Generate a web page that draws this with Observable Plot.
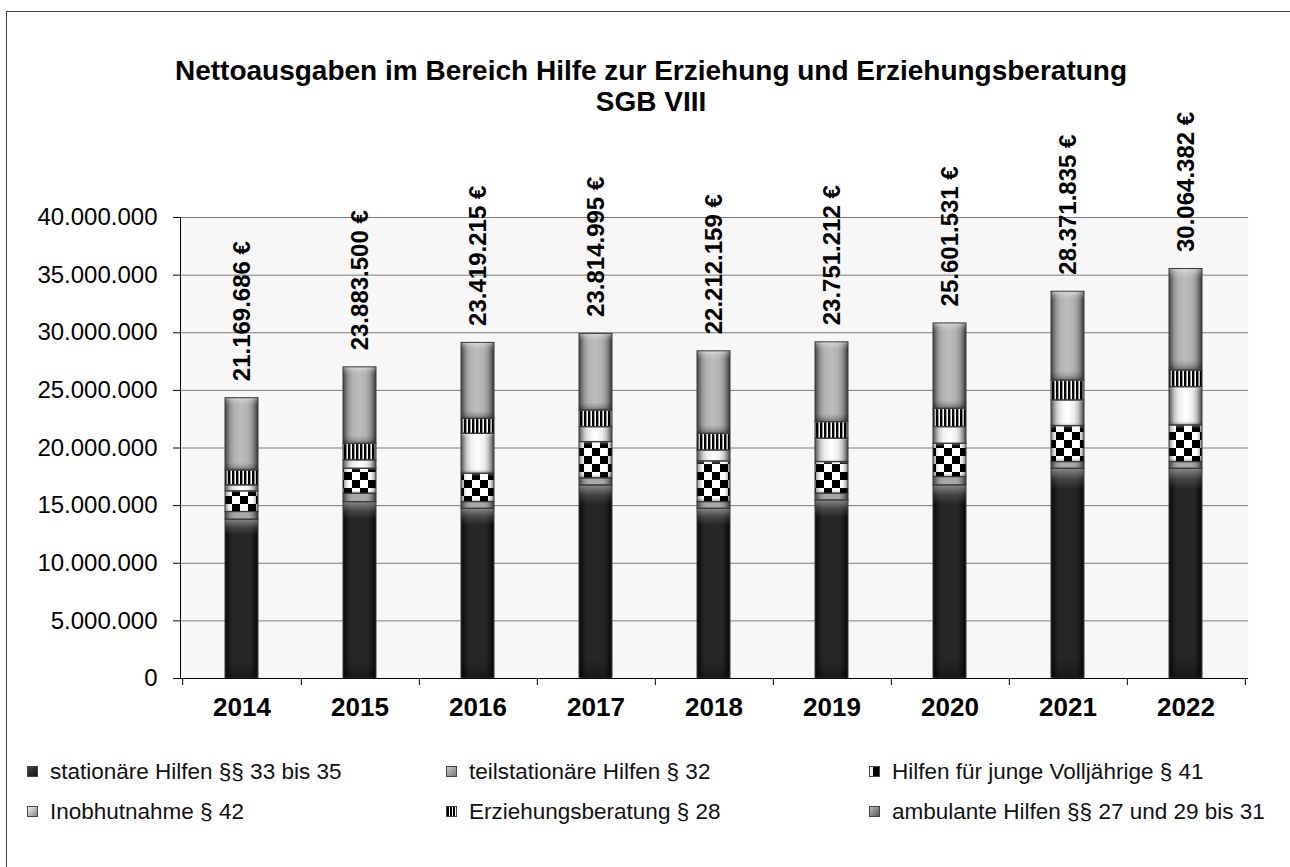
<!DOCTYPE html>
<html>
<head>
<meta charset="utf-8">
<script src="https://cdn.jsdelivr.net/npm/d3@7"></script>
<script src="https://cdn.jsdelivr.net/npm/@observablehq/plot@0.6"></script>
<style>
  body { margin: 0; background: #fff; font-family: "Liberation Sans", Arial, sans-serif; }
  #page { position: relative; width: 1290px; height: 867px; overflow: hidden; background: #fff; }
  #border { position: absolute; left: 6px; top: 11px; width: 1400px; height: 900px;
            border-left: 1.5px solid #444; border-top: 1.5px solid #444; }
  #chart { position: absolute; left: 0; top: 0; }
  #title { position: absolute; left: 0; width: 1302px; top: 55px; text-align: center;
           font-weight: bold; font-size: 28px; line-height: 31px; color: #000; }
  .item { position: absolute; font-size: 22.5px; line-height: 25px; color: #111; white-space: nowrap;
          display: flex; align-items: center; }
  .sw { width: 9px; height: 9px; margin-right: 12px; border: 1px solid #444; box-sizing: content-box; }
</style>
</head>
<body>
<div id="page">
  <div id="border"></div>
  <div id="chart"></div>
  <div id="title">Nettoausgaben im Bereich Hilfe zur Erziehung und Erziehungsberatung<br>SGB VIII</div>
  <div id="legend"></div>
</div>
<script>
// ---- data ----
const years = ["2014", "2015", "2016", "2017", "2018", "2019", "2020", "2021", "2022"];
const seriesNames = [
  "stationäre Hilfen §§ 33 bis 35",
  "teilstationäre Hilfen § 32",
  "Hilfen für junge Volljährige § 41",
  "Inobhutnahme § 42",
  "Erziehungsberatung § 28",
  "ambulante Hilfen §§ 27 und 29 bis 31"
];
const stationaer   = [13780000, 15300000, 14730000, 16750000, 14730000, 15450000, 16750000, 18200000, 18200000];
const teilstationaer = [660000, 730000, 570000, 610000, 570000, 580000, 720000, 570000, 570000];
const jungeVolljaehrige = [1790000, 2170000, 2460000, 3140000, 3530000, 2740000, 2890000, 3120000, 3180000];
const inobhutnahme = [520000, 720000, 3470000, 1300000, 950000, 2030000, 1440000, 2230000, 3320000];
const erziehungsberatung = [1300000, 1440000, 1300000, 1450000, 1450000, 1440000, 1600000, 1730000, 1450000];
const ambulant     = [6270000, 6640000, 6590000, 6650000, 7160000, 6930000, 7410000, 7710000, 8810000];
const totalLabels = ["21.169.686 €", "23.883.500 €", "23.419.215 €", "23.814.995 €", "22.212.159 €",
                     "23.751.212 €", "25.601.531 €", "28.371.835 €", "30.064.382 €"];
const yTicks = [0, 5000000, 10000000, 15000000, 20000000, 25000000, 30000000, 35000000, 40000000];

// legend layout order (3 columns x 2 rows as in reference)
const legendOrder = [
  "stationäre Hilfen §§ 33 bis 35", "teilstationäre Hilfen § 32", "Hilfen für junge Volljährige § 41",
  "Inobhutnahme § 42", "Erziehungsberatung § 28", "ambulante Hilfen §§ 27 und 29 bis 31"
];

// ---- build tables ----
const seriesValues = [stationaer, teilstationaer, jungeVolljaehrige, inobhutnahme, erziehungsberatung, ambulant];
const data = [];
seriesNames.forEach((s, i) => years.forEach((y, j) => data.push({year: y, series: s, value: seriesValues[i][j]})));
const totals = years.map((y, j) => ({year: y, total: d3.sum(seriesValues, v => v[j]), label: totalLabels[j]}));

const fmt = d3.formatLocale({decimal: ",", thousands: ".", grouping: [3], currency: ["", "€"]}).format(",d");
const fills = ["url(#f-stat)", "url(#f-teil)", "url(#f-junge)", "url(#f-inob)", "url(#f-erz)", "url(#f-amb)"];

const W = 1290, H = 740, mL = 180, mR = 42, mT = 217, mB = 62;
const step = (W - mL - mR) / years.length;
const stackOpts = {x: "year", y: "value", z: "series", order: seriesNames};

const chart = Plot.plot({
  width: W, height: H,
  marginTop: mT, marginLeft: mL, marginRight: mR, marginBottom: mB,
  style: {fontFamily: "Liberation Sans, Arial, sans-serif", background: "transparent", overflow: "visible", color: "#000"},
  x: {domain: years, paddingInner: 0.72, paddingOuter: 0.36, label: null},
  y: {domain: [0, 40000000], label: null},
  color: {domain: seriesNames, range: fills},
  marks: [
    Plot.frame({fill: "#f7f7f7", stroke: null}),
    Plot.gridY(yTicks, {stroke: "#7a7a7a", strokeOpacity: 1, strokeWidth: 1}),
    Plot.barY(data, {...stackOpts, fill: "series"}),
    Plot.barY(data, {...stackOpts, fill: "url(#bevelH)"}),
    Plot.barY(data, {...stackOpts, fill: "url(#bevelV)"}),
    Plot.barY(data, {...stackOpts, fill: "none", stroke: "#3a3a3a", strokeWidth: 1}),
    Plot.frame({anchor: "left", stroke: "#000"}),
    Plot.ruleY([0], {stroke: "#000"}),
    Plot.axisY(yTicks, {tickSize: 7, tickPadding: 16, tickFormat: fmt, fontSize: 24, label: null, stroke: "#000"}),
    Plot.axisX({tickSize: 0, tickPadding: 19, fontSize: 26, fontWeight: "bold", label: null}),
    Plot.axisX(years, {tickSize: 7, tickFormat: () => "", dx: step / 2, label: null, stroke: "#000"}),
    Plot.axisX(years.slice(0, 1), {tickSize: 7, tickFormat: () => "", dx: -step / 2, label: null, stroke: "#000"}),
    Plot.text(totals, {x: "year", y: "total", text: "label", rotate: -90, textAnchor: "start",
                       dy: -17, fontSize: 24, fontWeight: "bold", fill: "#000"})
  ]
});

// ---- defs: patterns and gradients ----
const svg = d3.select(chart);
const defs = svg.insert("defs", ":first-child");
function hGrad(id, stops) {
  const g = defs.append("linearGradient").attr("id", id).attr("x1", 0).attr("x2", 1).attr("y1", 0).attr("y2", 0);
  stops.forEach(([o, c, a]) => g.append("stop").attr("offset", o).attr("stop-color", c).attr("stop-opacity", a == null ? 1 : a));
}
function vGrad(id, stops) {
  const g = defs.append("linearGradient").attr("id", id).attr("x1", 0).attr("x2", 0).attr("y1", 0).attr("y2", 1);
  stops.forEach(([o, c, a]) => g.append("stop").attr("offset", o).attr("stop-color", c).attr("stop-opacity", a == null ? 1 : a));
}
hGrad("f-stat", [[0, "#111"], [0.25, "#262626"], [0.75, "#262626"], [1, "#0e0e0e"]]);
hGrad("f-teil", [[0, "#7a7a7a"], [0.3, "#a8a8a8"], [0.7, "#a8a8a8"], [1, "#6e6e6e"]]);
hGrad("f-inob", [[0, "#9a9a9a"], [0.3, "#eeeeee"], [0.5, "#ffffff"], [0.7, "#eeeeee"], [1, "#8e8e8e"]]);
hGrad("f-amb",  [[0, "#7c7c7c"], [0.3, "#b3b3b3"], [0.5, "#bdbdbd"], [0.7, "#b0b0b0"], [1, "#6f6f6f"]]);
const pj = defs.append("pattern").attr("id", "f-junge").attr("patternUnits", "userSpaceOnUse")
  .attr("width", 16).attr("height", 16);
pj.append("rect").attr("width", 16).attr("height", 16).attr("fill", "#fff");
pj.append("rect").attr("width", 8).attr("height", 8).attr("fill", "#000");
pj.append("rect").attr("x", 8).attr("y", 8).attr("width", 8).attr("height", 8).attr("fill", "#000");
const pe = defs.append("pattern").attr("id", "f-erz").attr("patternUnits", "userSpaceOnUse")
  .attr("width", 4).attr("height", 4);
pe.append("rect").attr("width", 4).attr("height", 4).attr("fill", "#fff");
pe.append("rect").attr("width", 2.4).attr("height", 4).attr("fill", "#000");
hGrad("bevelH", [[0, "#000", 0.45], [0.1, "#000", 0.15], [0.18, "#000", 0], [0.82, "#000", 0], [0.9, "#000", 0.15], [1, "#000", 0.5]]);
vGrad("bevelV", [[0, "#fff", 0.45], [0.05, "#fff", 0.15], [0.1, "#fff", 0], [0.9, "#000", 0], [0.95, "#000", 0.15], [1, "#000", 0.4]]);

document.getElementById("chart").appendChild(chart);

// ---- legend ----
const swatchCss = {
  "stationäre Hilfen §§ 33 bis 35": "linear-gradient(135deg,#444,#111)",
  "teilstationäre Hilfen § 32": "linear-gradient(135deg,#ccc,#777)",
  "Hilfen für junge Volljährige § 41": "linear-gradient(90deg,#eee 0 30%,#000 30% 100%)",
  "Inobhutnahme § 42": "linear-gradient(135deg,#eee,#888)",
  "Erziehungsberatung § 28": "repeating-linear-gradient(90deg,#000 0 2px,#fff 2px 3px)",
  "ambulante Hilfen §§ 27 und 29 bis 31": "linear-gradient(135deg,#bbb,#555)"
};
const colX = [27, 446, 869];
const rowY = [759, 799];
const legend = document.getElementById("legend");
legendOrder.forEach((name, i) => {
  const it = document.createElement("div");
  it.className = "item";
  it.style.left = colX[i % 3] + "px";
  it.style.top = rowY[Math.floor(i / 3)] + "px";
  const sw = document.createElement("span");
  sw.className = "sw";
  sw.style.background = swatchCss[name];
  const tx = document.createElement("span");
  tx.textContent = name;
  it.appendChild(sw); it.appendChild(tx);
  legend.appendChild(it);
});
</script>
</body>
</html>
